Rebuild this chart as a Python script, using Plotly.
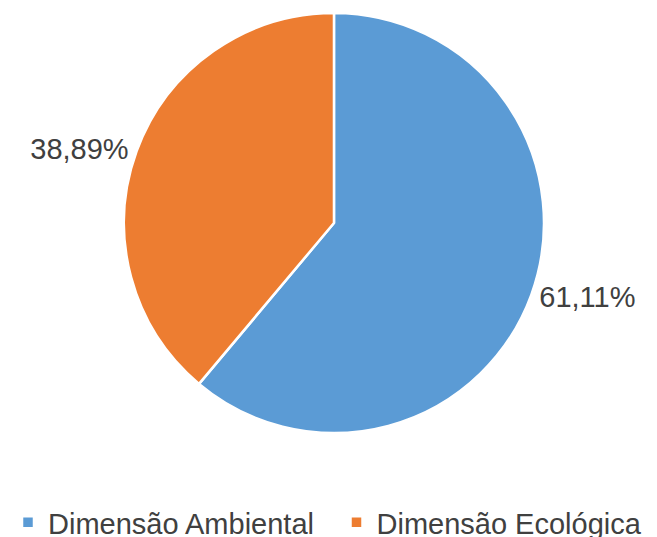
import plotly.graph_objects as go

categories = ["Dimensão Ambiental", "Dimensão Ecológica"]
values = [61.11, 38.89]
colors = ["#5B9BD5", "#ED7D31"]

fig = go.Figure(go.Pie(
    labels=categories,
    values=values,
    sort=False,
    direction="clockwise",
    rotation=0,
    domain=dict(x=[0.1735, 0.8188], y=[0, 1]),
    marker=dict(colors=colors, line=dict(color="white", width=2.5)),
    textposition="outside",
    texttemplate="%{percent:.2%}",
    textfont=dict(family="Liberation Sans, Arial", size=29, color="#404040"),
    hoverinfo="label+percent",
))

fig.update_layout(
    width=657, height=537,
    separators=",.",
    paper_bgcolor="white",
    plot_bgcolor="white",
    margin=dict(l=0, r=0, t=1, b=112),
    font=dict(family="Liberation Sans, Arial", size=29, color="#404040"),
    legend=dict(
        orientation="h",
        x=0.0, xanchor="left",
        yref="container", y=0.042, yanchor="middle",
        font=dict(size=29, color="#404040"),
        itemwidth=30,
        entrywidthmode="fraction",
        entrywidth=0.5,
        tracegroupgap=0,
    ),
)

fig.write_html("out.html")
